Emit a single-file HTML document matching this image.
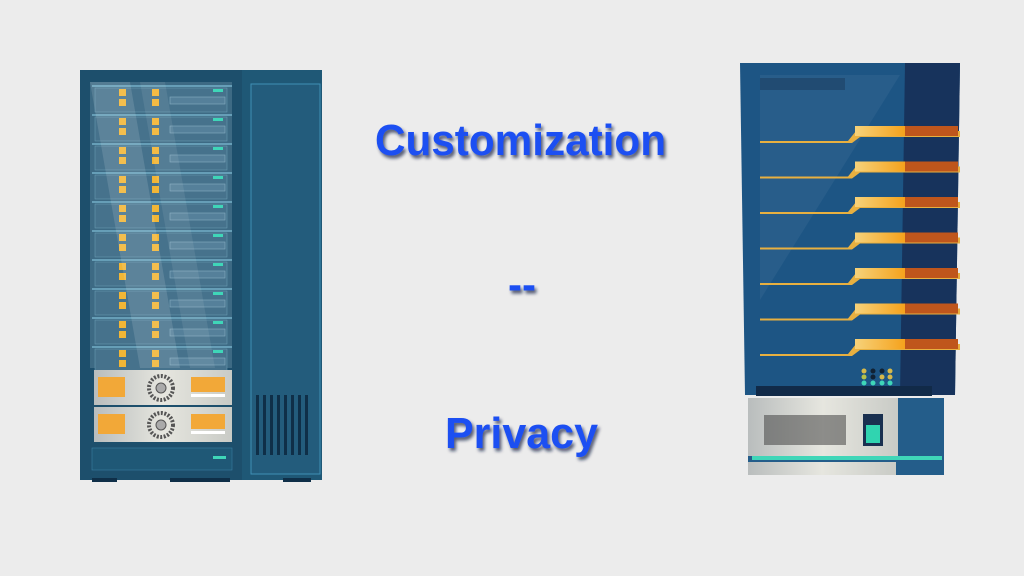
<!DOCTYPE html>
<html><head><meta charset="utf-8"><style>
html,body{margin:0;padding:0;background:#ececec;width:1024px;height:576px;overflow:hidden}
</style></head><body>
<svg width="1024" height="576" viewBox="0 0 1024 576" xmlns="http://www.w3.org/2000/svg">
<defs>
<linearGradient id="silver" x1="0" y1="0" x2="1" y2="0">
<stop offset="0" stop-color="#b9bdbd"/><stop offset="0.5" stop-color="#e6e6df"/><stop offset="1" stop-color="#c9cbc6"/>
</linearGradient>
<linearGradient id="gold" x1="0" y1="0" x2="1" y2="0">
<stop offset="0" stop-color="#f6d27a"/><stop offset="1" stop-color="#f5a21c"/>
</linearGradient>
<filter id="sh" x="-10%" y="-10%" width="130%" height="140%">
<feDropShadow dx="2" dy="3" stdDeviation="1.5" flood-color="#0a1a40" flood-opacity="0.7"/>
</filter>
</defs>

<!-- LEFT SERVER -->
<rect x="80" y="70" width="242" height="410" fill="#1f5876"/>
<rect x="80" y="70" width="162" height="410" fill="#1d4f6c"/>
<rect x="251" y="84" width="69" height="390" fill="#235c7c" stroke="#3f8fb5" stroke-width="1"/>
<rect x="90" y="82" width="142" height="286" fill="#3d6a84"/>
<g id="rows">
</g>
<!-- rows -->
<g fill="#f2b636">
</g>
<g>
<!-- generated rows -->
<g transform="translate(0,0)">
</g>
</g>
<g id="r">
<rect x="95" y="88" width="132" height="24" fill="#46728c" stroke="#6fa0b8" stroke-width="0.5"/>
</g>
<use href="#r" y="29"/><use href="#r" y="58"/><use href="#r" y="87"/><use href="#r" y="116"/><use href="#r" y="145"/><use href="#r" y="174"/><use href="#r" y="203"/><use href="#r" y="232"/><use href="#r" y="261"/>
<g id="d">
<rect x="119" y="89" width="7" height="7" fill="#f2b636"/><rect x="119" y="99" width="7" height="7" fill="#f2b636"/>
<rect x="152" y="89" width="7" height="7" fill="#f2b636"/><rect x="152" y="99" width="7" height="7" fill="#f2b636"/>
<rect x="170" y="97" width="55" height="7" fill="#55809a" stroke="#86aec2" stroke-width="0.6"/>
<rect x="213" y="89" width="10" height="3" fill="#3fd6b8"/>
<line x1="92" y1="86" x2="232" y2="86" stroke="#8fd3ea" stroke-width="1"/>
</g>
<use href="#d" y="29"/><use href="#d" y="58"/><use href="#d" y="87"/><use href="#d" y="116"/><use href="#d" y="145"/><use href="#d" y="174"/><use href="#d" y="203"/><use href="#d" y="232"/><use href="#d" y="261"/>
<polygon points="90,82 130,82 180,368 140,368" fill="#ffffff" opacity="0.12"/>
<polygon points="140,82 165,82 215,368 190,368" fill="#ffffff" opacity="0.08"/>
<rect x="94" y="370" width="138" height="35" fill="url(#silver)"/>
<rect x="94" y="407" width="138" height="35" fill="url(#silver)"/>
<g id="p">
<rect x="98" y="377" width="27" height="20" fill="#f2a838"/>
<circle cx="161" cy="388" r="12" fill="none" stroke="#555" stroke-width="4" stroke-dasharray="2 1.5"/>
<circle cx="161" cy="388" r="5" fill="#aaa" stroke="#555"/>
<rect x="191" y="377" width="34" height="15" fill="#f2a838"/>
<rect x="191" y="394" width="34" height="3" fill="#fff"/>
</g>
<use href="#p" y="37"/>
<rect x="92" y="448" width="140" height="22" fill="#1f5876" stroke="#3a7ea0" stroke-width="0.6"/>
<rect x="213" y="456" width="13" height="3" fill="#3fd6b8"/>
<g fill="#0f2f48">
<rect x="256" y="395" width="3" height="60"/><rect x="263" y="395" width="3" height="60"/><rect x="270" y="395" width="3" height="60"/><rect x="277" y="395" width="3" height="60"/><rect x="284" y="395" width="3" height="60"/><rect x="291" y="395" width="3" height="60"/><rect x="298" y="395" width="3" height="60"/><rect x="305" y="395" width="3" height="60"/>
</g>
<rect x="92" y="478" width="25" height="4" fill="#0f2f48"/><rect x="170" y="478" width="60" height="4" fill="#0f2f48"/><rect x="283" y="478" width="28" height="4" fill="#0f2f48"/>

<!-- RIGHT SERVER -->
<polygon points="740,63 960,63 955,395 745,395" fill="#1d5584"/>
<polygon points="905,63 960,63 955,395 900,395" fill="#17335c"/>
<polygon points="760,75 900,75 760,300" fill="#ffffff" opacity="0.05"/>
<rect x="760" y="78" width="85" height="12" fill="#1a3a5a" opacity="0.5"/>
<g id="l">
<path d="M760 141 L848 141 L856 131 L960 131 L960 137 L860 137 L852 143 L760 143 Z" fill="#e8b040"/>
<rect x="855" y="126" width="50" height="10" fill="url(#gold)"/>
<rect x="905" y="126" width="53" height="10" fill="#bf561c"/>
</g>
<use href="#l" y="35.5"/><use href="#l" y="71"/><use href="#l" y="106.5"/><use href="#l" y="142"/><use href="#l" y="177.5"/><use href="#l" y="213"/>
<g>
<circle cx="864" cy="371" r="2.5" fill="#d6b94a"/><circle cx="873" cy="371" r="2.5" fill="#123"/><circle cx="882" cy="371" r="2.5" fill="#123"/><circle cx="890" cy="371" r="2.5" fill="#d6b94a"/>
<circle cx="864" cy="377" r="2.5" fill="#b6c24a"/><circle cx="873" cy="377" r="2.5" fill="#123"/><circle cx="882" cy="377" r="2.5" fill="#d6b94a"/><circle cx="890" cy="377" r="2.5" fill="#d6b94a"/>
<circle cx="864" cy="383" r="2.5" fill="#3fd6b8"/><circle cx="873" cy="383" r="2.5" fill="#3fd6b8"/><circle cx="882" cy="383" r="2.5" fill="#3fd6b8"/><circle cx="890" cy="383" r="2.5" fill="#3fd6b8"/>
</g>
<rect x="756" y="386" width="176" height="10" fill="#112a48"/>
<rect x="748" y="398" width="196" height="77" fill="#245d8a"/>
<rect x="748" y="398" width="150" height="58" fill="url(#silver)"/>
<rect x="748" y="462" width="148" height="13" fill="url(#silver)"/>
<rect x="752" y="456" width="190" height="4" fill="#3fd6b8"/>
<rect x="764" y="415" width="82" height="30" fill="#444" opacity="0.55"/>
<rect x="863" y="414" width="20" height="32" fill="#1a3050"/>
<rect x="866" y="425" width="14" height="18" fill="#30d4b0"/>

<!-- TEXT -->
<g font-family="Liberation Sans, sans-serif" font-weight="bold" fill="#1c4ff2" filter="url(#sh)">
<text x="375" y="155" font-size="44" textLength="291" lengthAdjust="spacingAndGlyphs">Customization</text>
<text x="508" y="299" font-size="44" textLength="28" lengthAdjust="spacingAndGlyphs">--</text>
<text x="445" y="448" font-size="44" textLength="153" lengthAdjust="spacingAndGlyphs">Privacy</text>
</g>
</svg>
</body></html>
